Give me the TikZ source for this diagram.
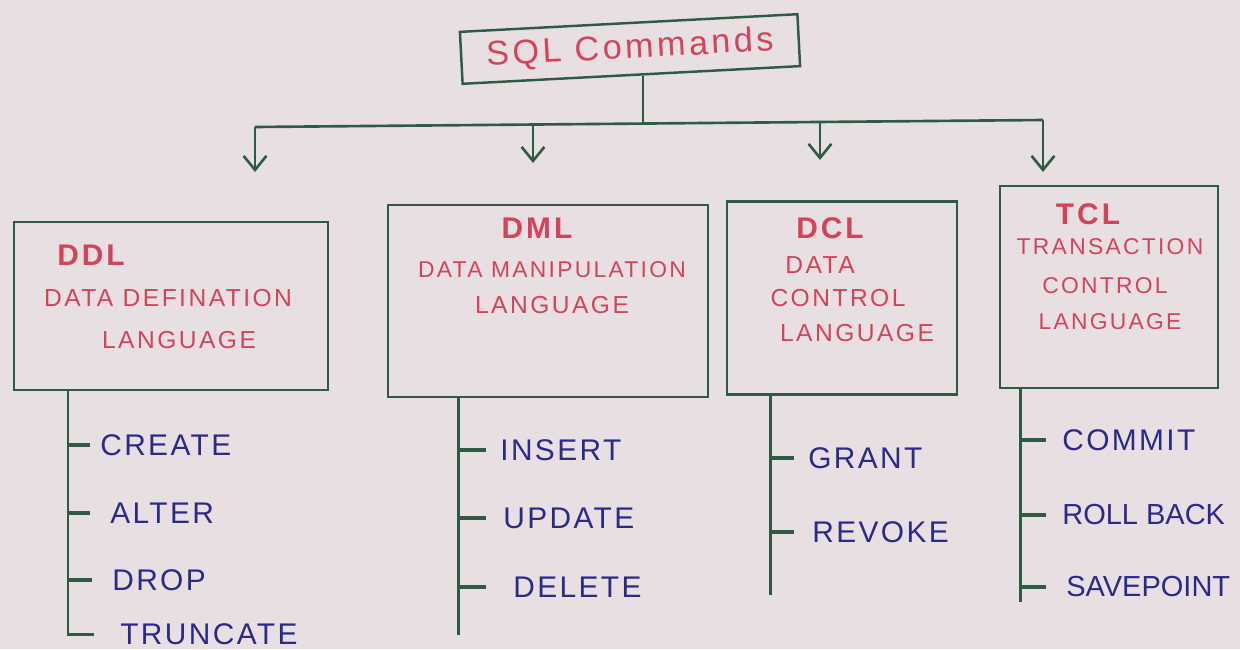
\documentclass[tikz,border=0pt]{standalone}
\usepackage{fontspec}
\setmainfont{Liberation Sans}
\newfontfamily\redfont[LetterSpace=10]{Liberation Sans}
\newfontfamily\bluefont[LetterSpace=8]{Liberation Sans}
\usetikzlibrary{arrows.meta}
\definecolor{bg}{HTML}{E8DFE3}
\definecolor{ink}{HTML}{2F5B45}
\definecolor{redink}{HTML}{D4435A}
\definecolor{blueink}{HTML}{2B2A88}
\begin{document}
\begin{tikzpicture}[x=0.02cm,y=-0.02cm,
  box/.style={draw=ink, line width=1.4pt, inner sep=0pt},
  title/.style={text=redink, font=\redfont\fontsize{14}{17}\selectfont, inner sep=0pt},
  abbr/.style={text=redink, font=\redfont\bfseries\fontsize{17}{20}\selectfont, inner sep=0pt},
  item/.style={text=blueink, font=\bluefont\fontsize{17}{20}\selectfont, inner sep=0pt, anchor=west},
  tightitem/.style={item, font=\rmfamily\fontsize{16.5}{20}\selectfont},
  wire/.style={draw=ink, line width=1.5pt},
  spine/.style={draw=ink, line width=1.7pt},
  tick/.style={draw=ink, line width=2.4pt},
  arr/.style={wire, -{Straight Barb[length=8pt,width=13pt]}}]
\fill[bg] (0,0) rectangle (1240,649);
\useasboundingbox (0,0) rectangle (1240,649);

% root
\node[box, rotate=3, minimum width=6.76cm, minimum height=1.04cm,
      text=redink, font=\redfont\fontsize{19.5}{23}\selectfont] (sql) at (630,49) {SQL Commands};

\coordinate (bus0) at (643,123);
\coordinate (busL) at (255,127);
\coordinate (busR) at (1043,120);
\coordinate (b2) at (533,124.6);
\coordinate (b3) at (820,122);
\coordinate (a1) at (255,172);
\coordinate (a2) at (533,163);
\coordinate (a3) at (820,160);
\coordinate (a4) at (1043,172);
\draw[wire] (sql.south -| bus0) -- (bus0);
\draw[wire] (busL) -- (busR);
\draw[arr] (busL) -- (a1);
\draw[arr] (b2) -- (a2);
\draw[arr] (b3) -- (a3);
\draw[arr] (busR) -- (a4);

% boxes
\node[box, minimum width=6.28cm, minimum height=3.36cm] (ddl) at (171,306) {};
\node[box, minimum width=6.4cm, minimum height=3.84cm] (dml) at (548,301) {};
\node[box, minimum width=4.6cm, minimum height=3.86cm] (dcl) at (842,298) {};
\node[box, minimum width=4.36cm, minimum height=4.04cm] (tcl) at (1109,287) {};

% box texts
\node[abbr] (ddla) at (91,255) {DDL};
\node[title] (ddl1) at (168,298) {DATA DEFINATION};
\node[title] (ddl2) at (179,340) {LANGUAGE};

\node[abbr] (dmla) at (537,228) {DML};
\node[title, font=\redfont\fontsize{13}{16}\selectfont] (dml1) at (552,270) {DATA MANIPULATION};
\node[title] (dml2) at (552,305) {LANGUAGE};

\node[abbr] (dcla) at (830,228) {DCL};
\node[title] (dcl1) at (820,265) {DATA};
\node[title] (dcl2) at (838,298) {CONTROL};
\node[title] (dcl3) at (857,333) {LANGUAGE};

\node[abbr] (tcla) at (1088,214) {TCL};
\node[title, font=\redfont\fontsize{13}{16}\selectfont] (tcl1) at (1110,247) {TRANSACTION};
\node[title, font=\redfont\fontsize{13}{16}\selectfont] (tcl2) at (1105,286) {CONTROL};
\node[title, font=\redfont\fontsize{13}{16}\selectfont] (tcl3) at (1110,322) {LANGUAGE};

% items
\node[item] (create) at (100,445) {CREATE};
\node[item] (alter) at (110,513) {ALTER};
\node[item] (drop) at (112,580) {DROP};
\node[item] (trunc) at (120,634) {TRUNCATE};

\node[item] (insert) at (500,450) {INSERT};
\node[item] (update) at (503,518) {UPDATE};
\node[item] (delete) at (513,587) {DELETE};

\node[item] (grant) at (808,458) {GRANT};
\node[item] (revoke) at (812,532) {REVOKE};

\node[item] (commit) at (1062,440) {COMMIT};
\node[tightitem] (rollback) at (1062,515) {ROLL BACK};
\node[tightitem] (savepoint) at (1066,587) {SAVEPOINT};

% spines
\coordinate (ddlx) at (68,390);
\coordinate (dmlend) at (458,635);
\coordinate (dclend) at (770,595);
\coordinate (tclend) at (1020,602);

\draw[spine] (ddl.south -| ddlx) -- (trunc.west -| ddlx) -- ++(26,0);
\draw[spine] (dml.south -| dmlend) -- (dmlend);
\draw[spine] (dcl.south -| dclend) -- (dclend);
\draw[spine] (tcl.south -| tclend) -- (tclend);

% ticks
\draw[tick] (create.west -| ddlx) -- ++(22,0);
\draw[tick] (alter.west -| ddlx) -- ++(22,0);
\draw[tick] (drop.west -| ddlx) -- ++(24,0);

\draw[tick] (insert.west -| dmlend) -- ++(28,0);
\draw[tick] (update.west -| dmlend) -- ++(28,0);
\draw[tick] (delete.west -| dmlend) -- ++(28,0);

\draw[tick] (grant.west -| dclend) -- ++(24,0);
\draw[tick] (revoke.west -| dclend) -- ++(24,0);

\draw[tick] (commit.west -| tclend) -- ++(26,0);
\draw[tick] (rollback.west -| tclend) -- ++(26,0);
\draw[tick] (savepoint.west -| tclend) -- ++(26,0);
\end{tikzpicture}
\end{document}
